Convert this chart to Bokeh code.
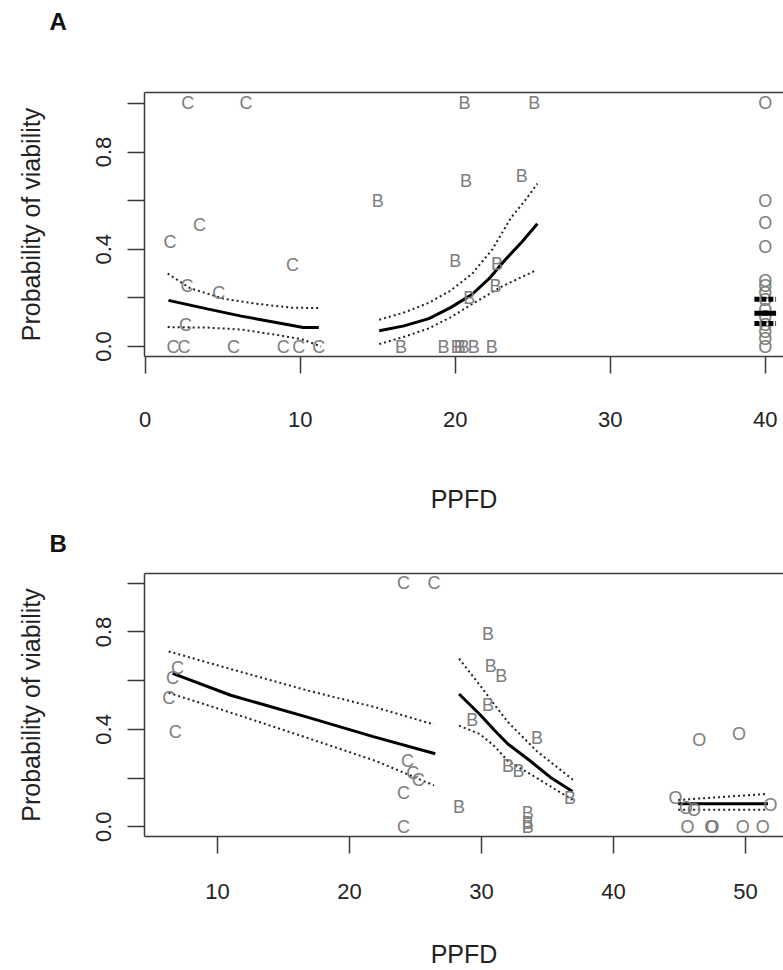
from bokeh.plotting import figure
from bokeh.models import ColumnDataSource, FixedTicker, LinearAxis, Range1d
from bokeh.layouts import column
from bokeh.embed import file_html
from bokeh.resources import INLINE
from bokeh.core.properties import value

# ---------------- Panel A data ----------------
a_c_x = [2.75, 6.5, 1.6, 3.5, 9.5, 4.75, 2.7, 2.6, 1.8, 2.5, 5.7, 8.9, 9.9, 11.2]
a_c_y = [1.0, 1.0, 0.43, 0.5, 0.335, 0.22, 0.25, 0.09, 0.0, 0.0, 0.0, 0.0, 0.0, 0.0]
a_b_x = [20.6, 25.1, 20.7, 24.3, 15.0, 20.0, 22.7, 22.6, 20.9, 16.5, 19.25, 20.1, 20.3, 20.55, 21.2, 22.35]
a_b_y = [1.0, 1.0, 0.68, 0.70, 0.60, 0.35, 0.34, 0.25, 0.20, 0.0, 0.0, 0.0, 0.0, 0.0, 0.0, 0.0]
a_o_x = [40, 40, 40, 40, 40, 40, 40, 40, 40, 40, 40, 40, 40, 40]
a_o_y = [1.0, 0.60, 0.51, 0.41, 0.27, 0.25, 0.22, 0.19, 0.15, 0.12, 0.09, 0.06, 0.03, 0.0]

a_c_fit_x = [1.5, 4.0, 6.2, 8.8, 10.2, 11.2]
a_c_fit_y = [0.19, 0.155, 0.125, 0.095, 0.078, 0.078]
a_c_up_x = [1.45, 2.9, 5.1, 7.3, 9.4, 11.35]
a_c_up_y = [0.30, 0.24, 0.196, 0.175, 0.16, 0.158]
a_c_lo_x = [1.45, 4.0, 6.2, 8.3, 10.1, 11.35]
a_c_lo_y = [0.08, 0.078, 0.07, 0.05, 0.03, 0.0]

a_b_fit_x = [15.1, 16.7, 18.3, 19.7, 21.1, 22.2, 23.2, 24.3, 25.3]
a_b_fit_y = [0.065, 0.085, 0.115, 0.16, 0.215, 0.28, 0.355, 0.43, 0.505]
a_b_up_x = [15.1, 16.7, 18.3, 19.7, 21.1, 22.4, 23.6, 24.5, 25.3]
a_b_up_y = [0.11, 0.14, 0.18, 0.23, 0.30, 0.40, 0.53, 0.60, 0.67]
a_b_lo_x = [15.1, 16.7, 18.3, 19.7, 21.1, 23.1, 25.1]
a_b_lo_y = [0.01, 0.04, 0.075, 0.12, 0.175, 0.25, 0.31]

a_o_fit_x = [40]
a_o_fit_y = [0.137]
a_o_up_y = [0.195]
a_o_lo_y = [0.095]

# ---------------- Panel B data ----------------
b_c_x = [24.1, 26.4, 6.97, 6.6, 6.3, 6.8, 24.4, 24.8, 25.2, 24.1, 24.1]
b_c_y = [1.0, 1.0, 0.65, 0.61, 0.53, 0.39, 0.27, 0.22, 0.19, 0.14, 0.0]
b_b_x = [30.5, 30.7, 31.5, 30.5, 29.3, 34.2, 32.0, 32.8, 36.7, 28.3, 33.5, 33.5, 33.5]
b_b_y = [0.79, 0.66, 0.62, 0.50, 0.44, 0.365, 0.25, 0.23, 0.12, 0.08, 0.055, 0.015, 0.0]
b_o_x = [46.5, 49.5, 44.7, 45.5, 46.1, 51.9, 45.6, 47.4, 47.5, 49.8, 51.3]
b_o_y = [0.355, 0.38, 0.12, 0.075, 0.07, 0.09, 0.0, 0.0, 0.0, 0.0, 0.0]

b_c_fit_x = [6.6, 11.0, 16.8, 21.8, 26.5]
b_c_fit_y = [0.63, 0.54, 0.45, 0.37, 0.30]
b_c_up_x = [6.3, 11.5, 16.8, 22.0, 26.4]
b_c_up_y = [0.72, 0.64, 0.56, 0.49, 0.42]
b_c_lo_x = [6.3, 11.5, 16.8, 22.0, 26.4]
b_c_lo_y = [0.55, 0.46, 0.365, 0.27, 0.17]

b_b_fit_x = [28.3, 29.9, 31.0, 32.0, 33.7, 35.3, 36.9]
b_b_fit_y = [0.545, 0.46, 0.395, 0.34, 0.27, 0.20, 0.145]
b_b_up_x = [28.3, 29.9, 31.0, 32.0, 34.2, 37.0]
b_b_up_y = [0.69, 0.58, 0.50, 0.43, 0.31, 0.19]
b_b_lo_x = [28.3, 29.9, 31.0, 32.0, 34.2, 36.9]
b_b_lo_y = [0.415, 0.38, 0.33, 0.27, 0.20, 0.11]

b_o_fit_x = [44.9, 51.7]
b_o_fit_y = [0.095, 0.095]
b_o_up_y = [0.11, 0.135]
b_o_lo_y = [0.07, 0.07]

y_ticks = [0.0, 0.2, 0.4, 0.6, 0.8, 1.0]
y_tick_labels = {0.0: "0.0", 0.2: "", 0.4: "0.4", 0.6: "", 0.8: "0.8", 1.0: ""}
a_x_ticks = [0, 10, 20, 30, 40]
b_x_ticks = [10, 20, 30, 40, 50]

FONT = "Liberation Sans"
AXC = "#3a3a3a"
PTC = "#7d7d7d"


def make_fig(letter, xr, yr, xticks, height, top, bottom, lab_standoff, top_gap):
    p = figure(width=783, height=height, x_range=Range1d(*xr), y_range=Range1d(*yr),
               min_border_left=144, min_border_right=0, min_border_top=top,
               min_border_bottom=bottom, toolbar_location=None, output_backend="svg",
               title=letter)
    p.outline_line_color = None
    p.grid.visible = False
    p.background_fill_color = "white"
    p.border_fill_color = "white"
    p.title.align = "left"
    p.title.offset = -95
    p.title.standoff = 0
    p.title.text_font = FONT
    p.title.text_font_size = "24px"
    p.title.text_font_style = "bold"
    p.title.text_color = "#111111"

    for ax in (p.xaxis[0], p.yaxis[0]):
        ax.axis_line_color = AXC
        ax.axis_line_width = 1.5
        ax.major_tick_line_color = AXC
        ax.major_tick_line_width = 1.5
        ax.major_tick_out = 17
        ax.major_tick_in = 0
        ax.minor_tick_line_color = None
        ax.major_label_text_font = FONT
        ax.major_label_text_font_size = "22px"
        ax.major_label_text_color = "#222222"
        ax.axis_label_text_font = FONT
        ax.axis_label_text_font_size = "25px"
        ax.axis_label_text_font_style = "normal"
        ax.axis_label_text_color = "#222222"

    p.xaxis[0].ticker = FixedTicker(ticks=xticks)
    p.xaxis[0].axis_label = "PPFD"
    p.xaxis[0].major_label_standoff = lab_standoff[0]
    p.xaxis[0].axis_label_standoff = lab_standoff[1]

    p.yaxis[0].ticker = FixedTicker(ticks=y_ticks)
    p.yaxis[0].major_label_overrides = y_tick_labels
    p.yaxis[0].major_label_orientation = "vertical"
    p.yaxis[0].major_label_standoff = 16
    p.yaxis[0].axis_label = "Probability of viability"
    p.yaxis[0].axis_label_standoff = 49

    # top border of the box, also used as a spacer between the frame and the panel letter
    top_ax = LinearAxis(ticker=FixedTicker(ticks=[]), axis_line_color=AXC, axis_line_width=1.5,
                        major_tick_line_color=None, minor_tick_line_color=None,
                        major_label_text_font_size="0px", axis_label=" ",
                        axis_label_text_font_size="2px", axis_label_standoff=top_gap)
    p.add_layout(top_ax, "above")
    return p


def add_points(p, xs, ys, letter):
    src = ColumnDataSource(dict(x=xs, y=ys, t=[letter] * len(xs)))
    p.text(x="x", y="y", text="t", source=src, text_align="center", text_baseline="middle",
           text_font=value(FONT), text_font_size="18px", text_color=PTC)


def add_fit(p, fx, fy, ux, uy, lx, ly):
    p.line(fx, fy, line_color="black", line_width=3)
    p.line(ux, uy, line_color="#222222", line_width=2, line_dash="2 3")
    p.line(lx, ly, line_color="#222222", line_width=2, line_dash="2 3")


# ---------------- Panel A ----------------
pa = make_fig("A", (-0.045, 41.18), (-0.041, 1.045), a_x_ticks, 523, 92, 167, (38, 55), 53)
add_fit(pa, a_c_fit_x, a_c_fit_y, a_c_up_x, a_c_up_y, a_c_lo_x, a_c_lo_y)
add_fit(pa, a_b_fit_x, a_b_fit_y, a_b_up_x, a_b_up_y, a_b_lo_x, a_b_lo_y)
add_points(pa, a_c_x, a_c_y, "C")
add_points(pa, a_b_x, a_b_y, "B")
add_points(pa, a_o_x, a_o_y, "O")
half = 0.7
pa.segment(x0=[v - half for v in a_o_fit_x], x1=[v + half for v in a_o_fit_x],
           y0=a_o_fit_y, y1=a_o_fit_y, line_color="black", line_width=5)
pa.segment(x0=[v - half for v in a_o_fit_x], x1=[v + half for v in a_o_fit_x],
           y0=a_o_up_y, y1=a_o_up_y, line_color="black", line_width=5, line_dash="5 2")
pa.segment(x0=[v - half for v in a_o_fit_x], x1=[v + half for v in a_o_fit_x],
           y0=a_o_lo_y, y1=a_o_lo_y, line_color="black", line_width=5, line_dash="5 2")

# ---------------- Panel B ----------------
pb = make_fig("B", (4.47, 52.88), (-0.04, 1.04), b_x_ticks, 447, 50, 134, (30, 38), 12)
add_fit(pb, b_c_fit_x, b_c_fit_y, b_c_up_x, b_c_up_y, b_c_lo_x, b_c_lo_y)
add_fit(pb, b_b_fit_x, b_b_fit_y, b_b_up_x, b_b_up_y, b_b_lo_x, b_b_lo_y)
add_fit(pb, b_o_fit_x, b_o_fit_y, b_o_fit_x, b_o_up_y, b_o_fit_x, b_o_lo_y)
add_points(pb, b_c_x, b_c_y, "C")
add_points(pb, b_b_x, b_b_y, "B")
add_points(pb, b_o_x, b_o_y, "O")

layout = column(pa, pb, spacing=0)
open("out.html", "w").write(file_html(layout, INLINE))
